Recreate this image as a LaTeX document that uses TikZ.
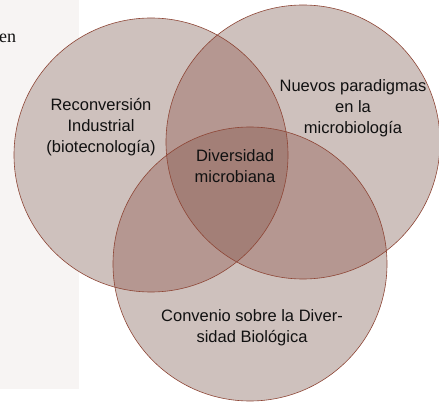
\documentclass[tikz,border=0pt]{standalone}
\usepackage{fontspec}
\setmainfont{Liberation Sans}
\newfontfamily\serifen{Liberation Serif}
\definecolor{one}{HTML}{CEC1BD}
\definecolor{two}{HTML}{B59791}
\definecolor{three}{HTML}{A37F77}
\definecolor{edge}{HTML}{8E4636}
\definecolor{pagebg}{HTML}{F7F4F3}
\definecolor{ink}{HTML}{111111}
\begin{document}
\begin{tikzpicture}[x=1pt,y=-1pt,
  lbl/.style={font=\fontsize{16.5}{21}\selectfont, align=center, text=ink, inner sep=0pt},
  edgeline/.style={draw=edge, line width=0.6pt}]
\useasboundingbox (0,0) rectangle (439,403);
\clip (0,0) rectangle (439,403);
\fill[pagebg] (0,0) rectangle (79,389);
\node[anchor=west, font=\serifen\fontsize{18}{18}\selectfont, inner sep=0pt, text=ink] (en) at (-1,38) {en};
\coordinate (L) at (151,155);
\coordinate (R) at (303,142);
\coordinate (B) at (250,264);
\def\rr{137}
% single fills
\fill[one] (L) circle[radius=\rr];
\fill[one] (R) circle[radius=\rr];
\fill[one] (B) circle[radius=\rr];
% pairwise overlaps
\begin{scope}
  \clip (L) circle[radius=\rr];
  \fill[two] (R) circle[radius=\rr];
  \fill[two] (B) circle[radius=\rr];
\end{scope}
\begin{scope}
  \clip (R) circle[radius=\rr];
  \fill[two] (B) circle[radius=\rr];
\end{scope}
% triple overlap
\begin{scope}
  \clip (L) circle[radius=\rr];
  \clip (R) circle[radius=\rr];
  \fill[three] (B) circle[radius=\rr];
\end{scope}
% outlines
\draw[edgeline] (L) circle[radius=\rr];
\draw[edgeline] (R) circle[radius=\rr];
\draw[edgeline] (B) circle[radius=\rr];
% labels
\node[lbl] (recon) at (101,127) {Reconversión\\Industrial\\(biotecnología)};
\node[lbl] (nuevos) at (353,108) {Nuevos paradigmas\\en la\\microbiología};
\node[lbl] (divers) at (235,166) {Diversidad\\microbiana};
\node[lbl] (conv) at (252,328) {Convenio sobre la Diver-\\sidad Biológica};
\end{tikzpicture}
\end{document}
